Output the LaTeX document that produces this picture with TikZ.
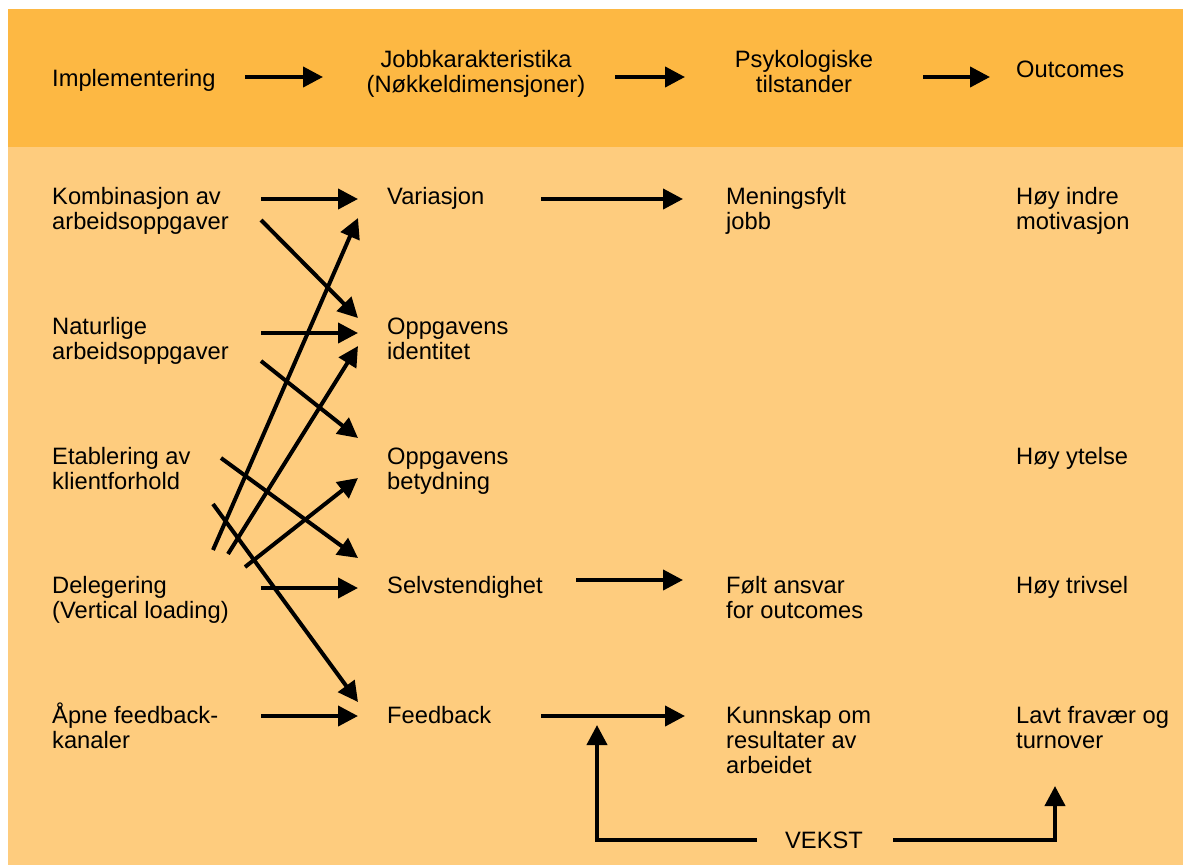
\documentclass[tikz,border=0pt]{standalone}
\usepackage{fontspec}
\setmainfont{Liberation Sans}
\usetikzlibrary{arrows.meta}
\definecolor{topband}{HTML}{FDB843}
\definecolor{lowband}{HTML}{FECC7E}
\begin{document}
\begin{tikzpicture}[x=1pt, y=-1pt, >={Triangle[length=20pt, width=20pt]},
    lbl/.style={anchor=base west, align=left, inner sep=0pt, font=\fontsize{23.7}{25}\selectfont},
    hd/.style={anchor=base, align=center, inner sep=0pt, font=\fontsize{23.7}{25}\selectfont},
    arr/.style={->, line width=4pt}]
    \useasboundingbox (0,0) rectangle (1183,865);
    \fill[white] (0,0) rectangle (1183,865);
    \fill[topband] (8,9) rectangle (1183,147);
    \fill[lowband] (8,147) rectangle (1183,865);
    % header (base = last line)
    \node[lbl] (impl) at (52,86) {Implementering};
    \node[hd] (jobb) at (476,92) {Jobbkarakteristika\\(Nøkkeldimensjoner)};
    \node[hd] (psyk) at (804,92) {Psykologiske\\tilstander};
    \node[lbl] (outc) at (1016,77) {Outcomes};
    \coordinate (h1a) at (245,77); \coordinate (h1b) at (323,77);
    \coordinate (h2a) at (615,77); \coordinate (h2b) at (685,77);
    \coordinate (h3a) at (923,77); \coordinate (h3b) at (990,77);
    \foreach \i in {1,2,3} \draw[arr] (h\i a) -- (h\i b);
    % tiltak
    \node[lbl] (komb) at (52,229) {Kombinasjon av\\arbeidsoppgaver};
    \node[lbl] (natur) at (52,359) {Naturlige\\arbeidsoppgaver};
    \node[lbl] (etab) at (52,489) {Etablering av\\klientforhold};
    \node[lbl] (deleg) at (52,618) {Delegering\\(Vertical loading)};
    \node[lbl] (aapne) at (52,748) {Åpne feedback-\\kanaler};
    % dimensjoner
    \node[lbl] (var) at (387,204) {Variasjon};
    \node[lbl] (ident) at (387,359) {Oppgavens\\identitet};
    \node[lbl] (betyd) at (387,489) {Oppgavens\\betydning};
    \node[lbl] (selv) at (387,593) {Selvstendighet};
    \node[lbl] (feedb) at (387,723) {Feedback};
    % tilstander
    \node[lbl] (mening) at (726,229) {Meningsfylt\\jobb};
    \node[lbl] (ansvar) at (726,618) {Følt ansvar\\for outcomes};
    \node[lbl] (kunn) at (726,773) {Kunnskap om\\resultater av\\arbeidet};
    % outcomes
    \node[lbl] (motiv) at (1016,229) {Høy indre\\motivasjon};
    \node[lbl] (ytelse) at (1016,464) {Høy ytelse};
    \node[lbl] (trivsel) at (1016,593) {Høy trivsel};
    \node[lbl] (fravaer) at (1016,748) {Lavt fravær og\\turnover};
    \node[hd] (vekst) at (824,848) {VEKST};
    % rette piler
    \foreach \i/\y in {1/199, 2/333, 3/588, 4/716} {
        \coordinate (s\i) at (261,\y);
        \coordinate (t\i) at (358,\y);
        \draw[arr] (s\i) -- (t\i);
    }
    % kryssende piler
    \coordinate (d1a) at (261,220); \coordinate (d1b) at (358,318);
    \coordinate (d2a) at (261,361); \coordinate (d2b) at (358,438);
    \coordinate (d3a) at (221,458); \coordinate (d3b) at (358,558);
    \coordinate (d4a) at (213,550); \coordinate (d4b) at (358,218);
    \coordinate (d5a) at (228,554); \coordinate (d5b) at (358,346);
    \coordinate (d6a) at (245,567); \coordinate (d6b) at (358,478);
    \coordinate (d7a) at (213,504); \coordinate (d7b) at (358,702);
    \foreach \i in {1,...,7} \draw[arr] (d\i a) -- (d\i b);
    % videre
    \coordinate (m1a) at (541,199); \coordinate (m1b) at (683,199);
    \coordinate (m2a) at (576,580); \coordinate (m2b) at (683,580);
    \coordinate (m3a) at (541,716); \coordinate (m3b) at (685,716);
    \foreach \i in {1,2,3} \draw[arr] (m\i a) -- (m\i b);
    % vekst
    \coordinate (v1) at (757,840); \coordinate (v2) at (893,840);
    \draw[arr] (v1) -| (597,725);
    \draw[arr] (v2) -| (1055,786);
\end{tikzpicture}
\end{document}
